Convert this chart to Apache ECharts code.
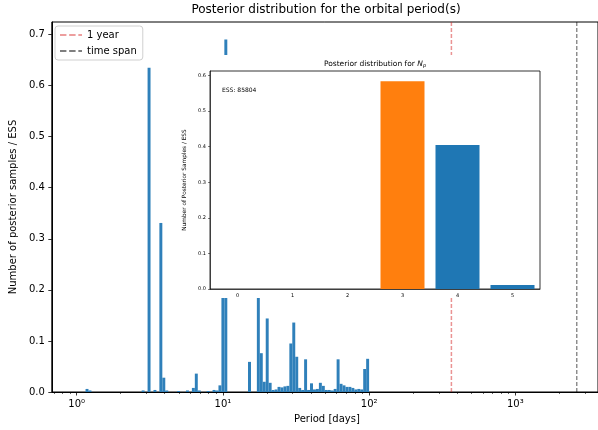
<!DOCTYPE html>
<html><head><meta charset="utf-8">
<script src="https://cdn.jsdelivr.net/npm/echarts@6/dist/echarts.min.js"></script>
<style>html,body{margin:0;padding:0;background:#fff}#c{width:598px;height:430px}</style>
</head><body><div id="c"></div>
<script>
// ---- main histogram: bin centre period [days] and height (posterior samples / ESS)
const periods = [1.177, 1.233, 2.848, 3.126, 3.430, 3.764, 3.943, 4.131, 4.977, 5.721,
  6.280, 6.578, 6.892, 7.923, 8.696, 9.110, 9.544, 9.998, 10.47, 15.20,
  17.47, 18.30, 19.17, 20.09, 21.04, 22.04, 23.09, 24.19, 25.34, 26.55,
  27.81, 29.14, 30.52, 31.98, 33.50, 35.10, 36.77, 38.52, 40.35, 42.28,
  44.29, 46.40, 48.61, 50.92, 53.35, 55.89, 58.55, 61.34, 64.26, 67.32,
  70.52, 73.88, 77.40, 81.08, 84.94, 88.99, 93.22, 97.66];
const fractions = [0.006, 0.003, 0.003, 0.635, 0.004, 0.331, 0.028, 0.003, 0.002, 0.003,
  0.008, 0.036, 0.003, 0.002, 0.004, 0.003, 0.013, 0.300, 0.690, 0.059,
  0.230, 0.076, 0.020, 0.144, 0.018, 0.004, 0.005, 0.010, 0.009, 0.011,
  0.012, 0.095, 0.136, 0.069, 0.008, 0.004, 0.064, 0.004, 0.017, 0.005,
  0.006, 0.018, 0.012, 0.004, 0.004, 0.003, 0.006, 0.064, 0.016, 0.013,
  0.010, 0.010, 0.008, 0.005, 0.006, 0.005, 0.045, 0.065];
const binWidthDex = 0.0202;          // log10 width of each histogram bin
const oneYear = 365.25;              // days
const timeSpan = 2630;               // days
const legendNames = ['1 year', 'time span'];
const xMajorTicks = [1, 10, 100, 1000];
const xMajorLabels = ['10\u2070', '10\u00b9', '10\u00b2', '10\u00b3'];
const xMinorTicks = [0.7, 0.8, 0.9, 2, 3, 4, 5, 6, 7, 8, 9, 20, 30, 40, 50, 60, 70, 80, 90,
  200, 300, 400, 500, 600, 700, 800, 900, 2000, 3000];
const yTicks = [0, 0.1, 0.2, 0.3, 0.4, 0.5, 0.6, 0.7];
// ---- inset: number of planets
const npCategories = ['0', '1', '2', '3', '4', '5'];
const npValues = [0, 0, 0, 0.584, 0.405, 0.011];
const npYTicks = [0, 0.1, 0.2, 0.3, 0.4, 0.5, 0.6];
const essText = 'ESS: 85804';

const FONT = 'DejaVu Sans';
const BLUE = '#1f77b4', ORANGE = '#ff7f0e';
const PINK = 'rgba(214,39,40,0.5)', GREY = 'rgba(0,0,0,0.55)';
const DASH_ICON = 'path://M0,0h7v2h-7z M10,0h7v2h-7z M20,0h4v2h-4z';
const X_MIN = 0.676, X_MAX = 3673, Y_MAX = 0.7245;
const histData = periods.map((p, i) => [p, fractions[i]]);

function vline(color, width) {
  return (params, api) => {
    const top = api.coord([api.value(0), Y_MAX]);
    const bot = api.coord([api.value(0), 0]);
    return {type: 'line', shape: {x1: top[0], y1: top[1], x2: bot[0], y2: bot[1]},
      style: {stroke: color, lineWidth: width, lineDash: [4, 2], fill: null}};
  };
}

const chart = echarts.init(document.getElementById('c'), null, {renderer: 'canvas'});
chart.setOption({
  animation: false,
  backgroundColor: '#fff',
  textStyle: {fontFamily: FONT, color: '#000'},
  graphic: [
    {type: 'rect', z: 9, shape: {x: 180, y: 55, width: 370, height: 243}, style: {fill: '#fff'}},
    {type: 'text', z: 20, x: 326, y: 10,
      style: {text: 'Posterior distribution for the orbital period(s)', font: '12px "DejaVu Sans"', fill: '#000',
        textAlign: 'center', textVerticalAlign: 'middle', align: 'center', verticalAlign: 'middle'}},
    {type: 'text', z: 20, x: 375, y: 64,
      style: {text: 'Posterior distribution for {i|N}{s|p}', font: '7.5px "DejaVu Sans"', fill: '#000',
        textAlign: 'center', textVerticalAlign: 'middle', align: 'center', verticalAlign: 'middle',
        rich: {i: {fontStyle: 'italic', fontSize: 7.5, fontFamily: FONT},
               s: {fontStyle: 'italic', fontSize: 5, fontFamily: FONT, padding: [3, 0, 0, 0]}}}},
    {type: 'text', z: 20, x: 222, y: 90,
      style: {text: essText, font: '6px "DejaVu Sans"', fill: '#000',
        textAlign: 'left', textVerticalAlign: 'middle', align: 'left', verticalAlign: 'middle'}}
  ],
  legend: {
    left: 55, top: 26, orient: 'vertical',
    data: [
      {name: legendNames[0], icon: DASH_ICON, itemStyle: {color: 'rgba(214,39,40,0.45)'}},
      {name: legendNames[1], icon: DASH_ICON, itemStyle: {color: 'rgba(0,0,0,0.5)'}}
    ],
    itemWidth: 22, itemHeight: 2, itemGap: 4,
    padding: [3, 6, 3, 5],
    borderColor: '#d0d0d0', borderWidth: 1, borderRadius: 3,
    backgroundColor: 'rgba(255,255,255,0.8)',
    textStyle: {fontFamily: FONT, fontSize: 10, color: '#000', lineHeight: 12}
  },
  grid: [
    {left: 50, top: 22, width: 548, height: 370, show: true, borderColor: '#000', borderWidth: 1,
      backgroundColor: 'transparent'},
    {left: 210, top: 71, width: 330, height: 218, show: true, borderColor: '#000', borderWidth: 0.8,
      backgroundColor: '#fff', z: 10}
  ],
  xAxis: [
    {type: 'log', logBase: 10, gridIndex: 0, min: X_MIN, max: X_MAX,
      name: 'Period [days]', nameLocation: 'middle', nameGap: 22,
      nameTextStyle: {fontFamily: FONT, fontSize: 10, color: '#000', padding: [0, 0, 0, 4]},
      axisLine: {lineStyle: {color: '#000', width: 1}},
      axisTick: {length: 3.5, lineStyle: {color: '#000', width: 0.8}, customValues: xMajorTicks},
      axisLabel: {customValues: xMajorTicks, fontFamily: FONT, fontSize: 10, color: '#000', margin: 7,
        formatter: v => { const i = xMajorTicks.findIndex(t => Math.abs(t - v) / t < 1e-6); return i >= 0 ? xMajorLabels[i] : ''; }},
      splitLine: {show: false}},
    {type: 'log', logBase: 10, gridIndex: 0, min: X_MIN, max: X_MAX, position: 'bottom',
      axisLine: {show: false},
      axisTick: {length: 2, lineStyle: {color: '#000', width: 0.6}, customValues: xMinorTicks},
      axisLabel: {show: false}, splitLine: {show: false}},
    {type: 'category', gridIndex: 1, data: npCategories, z: 11,
      axisLine: {lineStyle: {color: '#000', width: 0.6}},
      axisTick: {alignWithLabel: true, length: 2, lineStyle: {color: '#000', width: 0.5}},
      axisLabel: {fontFamily: FONT, fontSize: 5, color: '#000', margin: 4},
      splitLine: {show: false}}
  ],
  yAxis: [
    {type: 'value', gridIndex: 0, min: 0, max: Y_MAX,
      name: 'Number of posterior samples / ESS', nameLocation: 'middle', nameGap: 33,
      nameTextStyle: {fontFamily: FONT, fontSize: 10, color: '#000'},
      axisLine: {show: true, lineStyle: {color: '#000', width: 1}},
      axisTick: {show: true, length: 3.5, lineStyle: {color: '#000', width: 0.8}, customValues: yTicks},
      axisLabel: {customValues: yTicks, fontFamily: FONT, fontSize: 10, color: '#000', margin: 7,
        formatter: v => v.toFixed(1)},
      splitLine: {show: false}},
    {type: 'value', gridIndex: 1, min: 0, max: 0.613, z: 11,
      name: 'Number of Posterior Samples / ESS', nameLocation: 'middle', nameGap: 17,
      nameTextStyle: {fontFamily: FONT, fontSize: 5.8, color: '#000'},
      axisLine: {show: true, lineStyle: {color: '#000', width: 0.6}},
      axisTick: {show: true, length: 2, lineStyle: {color: '#000', width: 0.5}, customValues: npYTicks},
      axisLabel: {customValues: npYTicks, fontFamily: FONT, fontSize: 5, color: '#000', margin: 4,
        formatter: v => v.toFixed(1)},
      splitLine: {show: false}}
  ],
  series: [
    {type: 'custom', name: 'hist', xAxisIndex: 0, yAxisIndex: 0, z: 2, data: histData,
      renderItem: (params, api) => {
        const p = api.value(0), h = api.value(1);
        const f = Math.pow(10, binWidthDex / 2);
        const a = api.coord([p / f, h]);
        const b = api.coord([p * f, 0]);
        return {type: 'rect', shape: {x: a[0], y: a[1], width: b[0] - a[0], height: b[1] - a[1]},
          style: {fill: '#2f80ba'}};
      }},
    {type: 'custom', name: legendNames[0], xAxisIndex: 0, yAxisIndex: 0, z: 3,
      data: [[oneYear]], renderItem: vline(PINK, 1.5)},
    {type: 'custom', name: legendNames[1], xAxisIndex: 0, yAxisIndex: 0, z: 3,
      data: [[timeSpan]], renderItem: vline(GREY, 1.2)},
    {type: 'bar', name: 'Np', xAxisIndex: 2, yAxisIndex: 1, z: 12, barWidth: '80%',
      data: npValues.map((v, i) => ({value: v, itemStyle: {color: i === 3 ? ORANGE : BLUE}}))}
  ]
});
</script></body></html>
